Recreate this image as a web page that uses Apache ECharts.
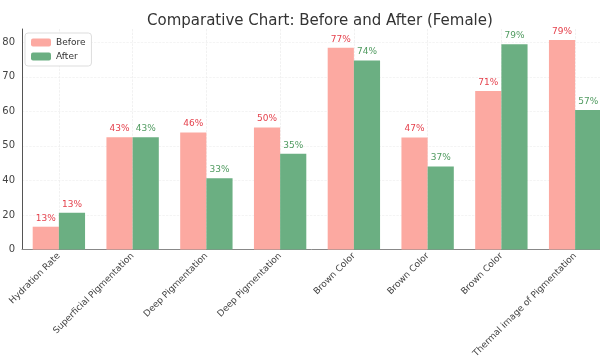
<!DOCTYPE html>
<html lang="en">

<head>
    <meta charset="UTF-8" />
    <title>Comparative Chart</title>
    <script src="https://cdn.jsdelivr.net/npm/echarts@6/dist/echarts.min.js"></script>
    <style>
        body { margin: 0; background: #fff; }
        #chart { width: 600px; height: 363px; }
    </style>
</head>

<body>
    <div id="chart"></div>

    <script>
        // data
        let categories = [
            "Hydration Rate", "Superficial Pigmentation", "Deep Pigmentation", "Deep Pigmentation",
            "Brown Color", "Brown Color", "Brown Color", "Thermal image of Pigmentation"
        ];
        let beforeValues = [13.2, 52.5, 53.9, 55.3, 78.4, 52.4, 65.9, 80.7];
        let afterValues = [21.3, 52.5, 40.6, 47.7, 74.7, 44.0, 79.4, 60.4];
        let beforeLabels = ["13%", "43%", "46%", "50%", "77%", "47%", "71%", "79%"];
        let afterLabels = ["13%", "43%", "33%", "35%", "74%", "37%", "79%", "57%"];

        // the y axis in the picture has uneven steps: equal spacing between these ticks
        let yTickValues = [0, 20, 40, 50, 60, 70, 80];
        let yTickLabels = ["0", "20", "40", "50", "60", "70", "80"];

        // value -> position on the (evenly spaced) tick index scale
        function toAxis(v) {
            for (let i = 1; i < yTickValues.length; i++) {
                if (v <= yTickValues[i] || i == yTickValues.length - 1) {
                    let a = yTickValues[i - 1], b = yTickValues[i];
                    return (i - 1) + (v - a) / (b - a);
                }
            }
            return 0;
        }

        let font = "DejaVu Sans";
        let redText = "#e5424d";
        let greenText = "#4f9a5f";

        let myChart = echarts.init(document.getElementById("chart"), null, {
            width: 600,
            height: 363,
        });

        let option = {
            animation: false,
            textStyle: { fontFamily: font },
            title: {
                text: "Comparative Chart: Before and After (Female)",
                left: 142,
                top: 9,
                textStyle: { fontFamily: font, fontSize: 15, fontWeight: "normal", color: "#333" },
            },
            legend: {
                orient: "vertical",
                left: 25,
                top: 33,
                itemWidth: 20,
                itemHeight: 8,
                itemGap: 5,
                padding: [5, 6, 5, 6],
                borderColor: "#dddddd",
                borderWidth: 1,
                borderRadius: 3,
                backgroundColor: "#fff",
                textStyle: { fontFamily: font, fontSize: 9, color: "#333" },
                data: ["Before", "After"],
            },
            grid: {
                left: 22,
                top: 29,
                bottom: 113.5,
                width: 590,
                outerBoundsMode: "none",
            },
            xAxis: {
                type: "category",
                data: categories,
                axisLine: { lineStyle: { color: "#888" } },
                axisTick: { show: false },
                axisLabel: {
                    rotate: 45,
                    interval: 0,
                    fontFamily: font,
                    fontSize: 9,
                    color: "#444",
                    margin: 5,
                },
                splitLine: {
                    show: true,
                    alignWithLabel: true,
                    lineStyle: { color: "#e8e8e8", type: "dashed", width: 0.6 },
                },
            },
            yAxis: {
                type: "value",
                min: 0,
                max: 6.385,
                interval: 1,
                axisLine: { show: true, lineStyle: { color: "#555" } },
                axisTick: { show: false },
                axisLabel: {
                    fontFamily: font,
                    fontSize: 10,
                    color: "#444",
                    margin: 7,
                    formatter: function (v) {
                        let i = Math.round(v);
                        return Math.abs(v - i) < 1e-6 && yTickLabels[i] != undefined ? yTickLabels[i] : "";
                    },
                },
                splitLine: {
                    showMaxLine: false,
                    lineStyle: { color: "#ececec", type: "dashed", width: 0.6 },
                },
            },
            series: [
                {
                    name: "Before",
                    type: "bar",
                    barGap: "0%",
                    barCategoryGap: "29%",
                    itemStyle: { color: "#fca9a1" },
                    label: {
                        show: true,
                        position: "top",
                        distance: 4,
                        fontFamily: font,
                        fontSize: 9,
                        color: redText,
                        formatter: (p) => beforeLabels[p.dataIndex],
                    },
                    data: beforeValues.map(toAxis),
                },
                {
                    name: "After",
                    type: "bar",
                    itemStyle: { color: "#6baf82" },
                    label: {
                        show: true,
                        position: "top",
                        distance: 4,
                        fontFamily: font,
                        fontSize: 9,
                        color: greenText,
                        formatter: (p) => afterLabels[p.dataIndex],
                    },
                    // first "After" label is red in the picture
                    data: afterValues.map((v, i) =>
                        i == 0 ? { value: toAxis(v), label: { color: redText } } : toAxis(v)
                    ),
                },
            ],
        };

        myChart.setOption(option);
    </script>
</body>

</html>
